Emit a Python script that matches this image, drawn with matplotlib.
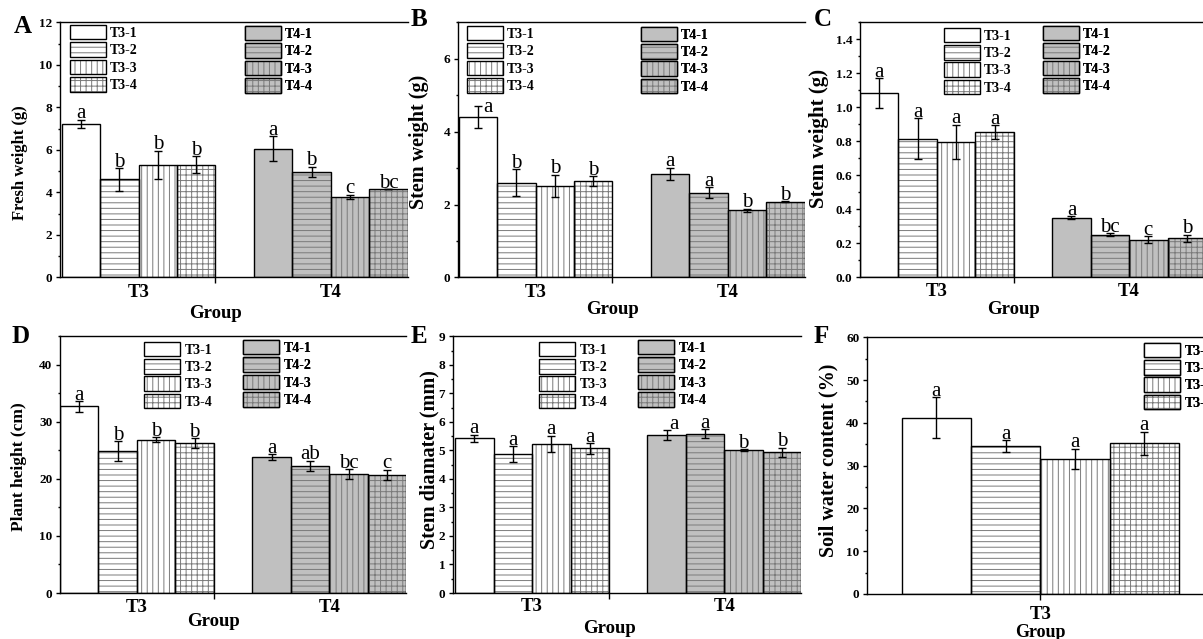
import numpy as np
import matplotlib
matplotlib.use('Agg')
import matplotlib.pyplot as plt
from matplotlib.patches import Patch
from matplotlib.ticker import MultipleLocator

plt.rcParams['font.family'] = ['Liberation Serif', 'DejaVu Serif']
plt.rcParams['font.weight'] = 'bold'
plt.rcParams['axes.labelweight'] = 'bold'
plt.rcParams['hatch.linewidth'] = 0.7

W, H = 1203, 639

# --- data ---
group_labels = ['T3', 'T4']
series = ['T3-1', 'T3-2', 'T3-3', 'T3-4', 'T4-1', 'T4-2', 'T4-3', 'T4-4']

fresh_weight = [7.22, 4.61, 5.30, 5.30, 6.06, 4.96, 3.78, 4.14]
fresh_err = [0.20, 0.53, 0.67, 0.40, 0.59, 0.25, 0.11, 0.0]
fresh_sig = ['a', 'b', 'b', 'b', 'a', 'b', 'c', 'bc']

stem_weight_b = [4.41, 2.60, 2.51, 2.64, 2.84, 2.32, 1.85, 2.08]
stem_err_b = [0.30, 0.37, 0.31, 0.14, 0.17, 0.15, 0.04, 0.01]
stem_sig_b = ['a', 'b', 'b', 'b', 'a', 'a', 'b', 'b']

stem_weight_c = [1.084, 0.816, 0.798, 0.855, 0.351, 0.251, 0.222, 0.231]
stem_err_c = [0.087, 0.12, 0.10, 0.04, 0.01, 0.01, 0.022, 0.02]
stem_sig_c = ['a', 'a', 'a', 'a', 'a', 'bc', 'c', 'b']

plant_height = [32.7, 24.9, 26.9, 26.3, 23.8, 22.3, 20.85, 20.7]
plant_err = [0.97, 1.73, 0.40, 0.80, 0.55, 0.90, 0.90, 0.90]
plant_sig = ['a', 'b', 'b', 'b', 'a', 'ab', 'bc', 'c']

stem_diam = [5.43, 4.88, 5.23, 5.07, 5.54, 5.58, 5.01, 4.93]
stem_diam_err = [0.12, 0.27, 0.28, 0.18, 0.19, 0.16, 0.03, 0.16]
stem_diam_sig = ['a', 'a', 'a', 'a', 'a', 'a', 'b', 'b']

soil_water = [41.2, 34.56, 31.6, 35.2]
soil_err = [4.85, 1.45, 2.35, 2.75]
soil_sig = ['a', 'a', 'a', 'a']

FILLS = ['white'] * 4 + ['#c0c0c0'] * 4
HATCHES = ['', '---', '|||', '+++'] * 2
HATCH_COLOR = '#7a7a7a'

fig = plt.figure(figsize=(W / 100, H / 100), dpi=100)


def px_axes(x_left, x_right, y_top, y_bot):
    return fig.add_axes([x_left / W, 1 - y_bot / H,
                         (x_right - x_left) / W, (y_bot - y_top) / H])


def legend_handles(idx):
    return [(Patch(facecolor=FILLS[i], hatch=HATCHES[i], edgecolor=HATCH_COLOR, linewidth=0),
             Patch(facecolor='none', edgecolor='black', linewidth=1.0)) for i in idx]


def add_legend(ax, idx, x, y):
    leg = ax.legend(legend_handles(idx), [series[i] for i in idx],
                    loc='upper left', bbox_to_anchor=(x / W, 1 - y / H),
                    bbox_transform=fig.transFigure, frameon=False,
                    borderpad=0, borderaxespad=0, handlelength=2.6,
                    handleheight=1.22, labelspacing=0.18, handletextpad=0.3,
                    prop={'size': 10, 'weight': 'bold'})
    ax.add_artist(leg)


def draw_panel(ax, xpos, vals, errs, sigs, nudges=None):
    nudges = nudges or {}
    for i, (xi, v) in enumerate(zip(xpos, vals)):
        ax.bar(xi, v, width=1, color=FILLS[i], hatch=HATCHES[i],
               edgecolor=HATCH_COLOR, linewidth=0, zorder=2)
        ax.bar(xi, v, width=1, fill=False, edgecolor='black', linewidth=1.0, zorder=3)
    ax.errorbar(xpos, vals, yerr=errs, fmt='none', ecolor='black',
                elinewidth=1, capsize=3, capthick=1, zorder=4)
    for i, (xi, v, e, s) in enumerate(zip(xpos, vals, errs, sigs)):
        dx, dy = nudges.get(i, (0, 1.0))
        ax.annotate(s, (xi, v + e), xytext=(dx, dy), textcoords='offset points',
                    ha='center', va='baseline', fontsize=15, fontweight='normal',
                    zorder=5, annotation_clip=False)


def style_axes(ax, ylim, major, minor, ylabel, ylab_size, ylab_xy, group_top,
               group_x, xpad, y_top, y_bot, x_axis, x_unit, x0, two_groups=True):
    ax.set_ylim(*ylim)
    for s in ['top', 'left', 'bottom']:
        ax.spines[s].set_linewidth(1.0)
    ax.spines['right'].set_visible(False)
    ax.yaxis.set_major_locator(MultipleLocator(major))
    ax.yaxis.set_minor_locator(MultipleLocator(minor))
    ax.tick_params(axis='y', which='major', direction='out', length=3, width=1,
                   labelsize=9.5, pad=2.5)
    ax.tick_params(axis='y', which='minor', direction='out', length=1.8, width=1)
    if two_groups:
        ax.set_xticks([2, 7], group_labels)
        ax.set_xticks([4], minor=True)
        ax.tick_params(axis='x', which='major', length=0, labelsize=13.5, pad=xpad)
        ax.tick_params(axis='x', which='minor', direction='out', length=4, width=1)
    else:
        ax.set_xticks([2.5], group_labels[:1])
        ax.tick_params(axis='x', which='major', direction='out', length=4, width=1,
                       labelsize=13.5, pad=xpad)
    ax.set_ylabel(ylabel, fontsize=ylab_size, va='center')
    x_frac = (ylab_xy[0] - x_axis) / (ax.get_position().width * W)
    ax.yaxis.set_label_coords(x_frac, (y_bot - ylab_xy[1]) / (y_bot - y_top))
    ax.set_xlabel('Group', fontsize=13.5, va='top')
    gx = ((group_x - x0) * x_unit) / (ax.get_position().width * W)
    ax.xaxis.set_label_coords(gx, (y_bot - group_top) / (y_bot - y_top))


pos8 = [i + 0.5 + (i // 4) for i in range(8)]
pos4 = [i + 1 for i in range(4)]
unit = 38.45
top_row = (22.3, 277.5)
bot_row = (336.3, 593.0)

# ---- A ----
axA = px_axes(60, 61.6 + 9 * unit, *top_row)
axA.set_xlim((60 - 61.6) / unit, 9)
draw_panel(axA, pos8, fresh_weight, fresh_err, fresh_sig)
style_axes(axA, (0, 12), 2, 1, 'Fresh weight (g)', 12, (20, 163), 305, 4, 5.0,
           *top_row, 60, unit, (60 - 61.6) / unit)
add_legend(axA, [0, 1, 2, 3], 70, 25)
add_legend(axA, [4, 5, 6, 7], 245, 26)

# ---- B ----
axB = px_axes(458, 458.6 + 9 * unit, *top_row)
axB.set_xlim((458 - 458.6) / unit, 9)
draw_panel(axB, pos8, stem_weight_b, stem_err_b, stem_sig_b, nudges={0: (7, -4.5)})
style_axes(axB, (0, 7), 2, 1, 'Stem weight (g)', 14.5, (419, 142), 301, 4, 4.5,
           *top_row, 458, unit, (458 - 458.6) / unit)
add_legend(axB, [0, 1, 2, 3], 466.7, 26)
add_legend(axB, [4, 5, 6, 7], 640.7, 26.7)

# ---- C ----
axC = px_axes(860, 860 + 9 * unit, *top_row)
axC.set_xlim(0, 9)
draw_panel(axC, pos8, stem_weight_c, stem_err_c, stem_sig_c)
style_axes(axC, (0, 1.5), 0.2, 0.1, 'Stem weight (g)', 15, (819, 138), 301, 4, 4.0,
           *top_row, 860, unit, 0)
add_legend(axC, [0, 1, 2, 3], 944, 27.7)
add_legend(axC, [4, 5, 6, 7], 1042.7, 26)

# ---- D ----
axD = px_axes(60, 60.2 + 9 * unit, *bot_row)
axD.set_xlim(0, 9)
draw_panel(axD, pos8, plant_height, plant_err, plant_sig)
style_axes(axD, (0, 45), 10, 5, 'Plant height (cm)', 12.5, (19, 467), 613, 4, 4.0,
           *bot_row, 60, unit, 0)
add_legend(axD, [0, 1, 2, 3], 144.3, 341.7)
add_legend(axD, [4, 5, 6, 7], 243.3, 340)

# ---- E ----
axE = px_axes(453, 455.2 + 9 * unit, *bot_row)
axE.set_xlim((453 - 455.2) / unit, 9)
draw_panel(axE, pos8, stem_diam, stem_diam_err, stem_diam_sig, nudges={4: (5.5, 0.7)})
style_axes(axE, (0, 9), 1, 0.5, 'Stem diamater (mm)', 14.5, (429, 460), 620, 4, 3.6,
           *bot_row, 453, unit, (453 - 455.2) / unit)
add_legend(axE, [0, 1, 2, 3], 539.3, 341.7)
add_legend(axE, [4, 5, 6, 7], 638.3, 340)

# ---- F ----
f_top, f_bot = 337.3, 594.0
f_unit = 69.3
axF = px_axes(867, 867 + 5 * f_unit, f_top, f_bot)
axF.set_xlim(0, 5)
draw_panel(axF, pos4, soil_water, soil_err, soil_sig)
style_axes(axF, (0, 60), 10, 5, 'Soil water content (%)', 14.5, (828, 460), 624, 2.5, 4.5,
           f_top, f_bot, 867, f_unit, 0, two_groups=False)
axF.xaxis.label.set_fontsize(13)
add_legend(axF, [0, 1, 2, 3], 1144.3, 342.7)

# panel letters
for letter, (lx, ly) in zip('ABCDEF', [(14, 33), (411, 26), (814, 26),
                                       (12, 343), (411, 343), (814, 343)]):
    fig.text(lx / W, 1 - ly / H, letter, fontsize=18, fontweight='bold',
             ha='left', va='baseline')

fig.savefig('out.png', dpi=100)
